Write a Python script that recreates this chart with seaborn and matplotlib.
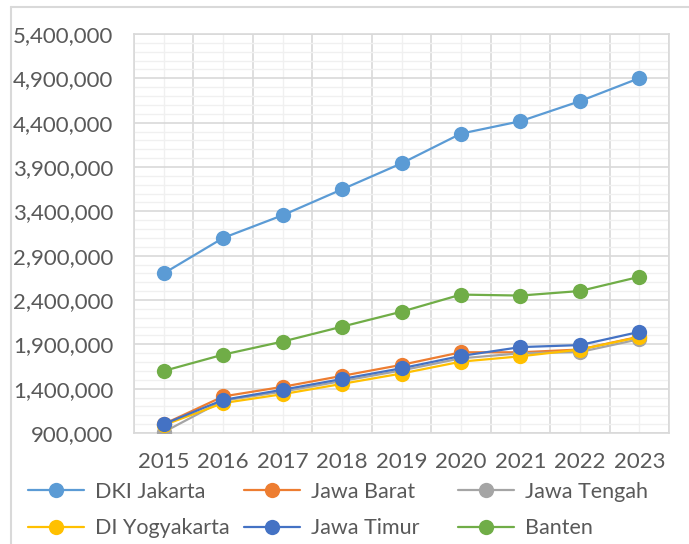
import matplotlib
matplotlib.use("Agg")
import matplotlib.pyplot as plt
import seaborn as sns
import pandas as pd
import numpy as np
from matplotlib.ticker import FuncFormatter, FixedLocator
from matplotlib.lines import Line2D

years = [2015, 2016, 2017, 2018, 2019, 2020, 2021, 2022, 2023]
dki_jakarta = [2700000, 3100000, 3355750, 3648035, 3940973, 4276349, 4416186, 4641854, 4901798]
jawa_barat = [1000000, 1312355, 1420624, 1544360, 1668373, 1810351, 1810351, 1841487, 1986670]
jawa_tengah = [910000, 1265000, 1367000, 1486065, 1605396, 1742015, 1798979, 1812935, 1958169]
di_yogyakarta = [988500, 1237700, 1337645, 1454154, 1570923, 1704608, 1765000, 1840915, 1981782]
jawa_timur = [1000000, 1273490, 1388000, 1508894, 1630059, 1768777, 1868777, 1891567, 2040244]
banten = [1600000, 1784000, 1931180, 2099385, 2267990, 2460996, 2450000, 2501203, 2661280]

series_names = ["DKI Jakarta", "Jawa Barat", "Jawa Tengah", "DI Yogyakarta", "Jawa Timur", "Banten"]
series_values = [dki_jakarta, jawa_barat, jawa_tengah, di_yogyakarta, jawa_timur, banten]
colors = ["#5B9BD5", "#ED7D31", "#A5A5A5", "#FFC000", "#4472C4", "#70AD47"]

y_min, y_max, y_step, y_minor_step = 900000, 5400000, 500000, 100000

rows = []
for name, vals in zip(series_names, series_values):
    for i, (y, v) in enumerate(zip(years, vals)):
        rows.append({"pos": i, "year": y, "value": v, "series": name})
df = pd.DataFrame(rows)

sns.set_theme(style="white")
plt.rcParams['font.family'] = ['Lato', 'DejaVu Sans']
text_color = "#595959"

fig = plt.figure(figsize=(6.89, 5.44), dpi=100)
ax = fig.add_axes([134/689, 1-433/544, (669-134)/689, (433-34)/544])

sns.lineplot(data=df, x="pos", y="value", hue="series", hue_order=series_names,
             palette=colors, marker="o", markersize=11, markeredgewidth=0,
             linewidth=1.6, legend=False, ax=ax, zorder=3)

ax.set_xlim(-0.5, len(years) - 0.5)
ax.set_ylim(y_min, y_max)

# y axis
ax.yaxis.set_major_locator(FixedLocator(np.arange(y_min, y_max + 1, y_step)))
ax.yaxis.set_minor_locator(FixedLocator(np.arange(y_min, y_max + 1, y_minor_step)))
ax.yaxis.set_major_formatter(FuncFormatter(lambda v, p: f"{int(round(v)):,}"))
ax.grid(which="major", axis="y", color="#D9D9D9", linewidth=1.2, zorder=0)
ax.grid(which="minor", axis="y", color="#F0F0F0", linewidth=1.0, zorder=0)

# x axis: labels at centres, major lines at boundaries
ax.set_xticks(np.arange(-0.5, len(years), 1.0))
ax.set_xticklabels([])
ax.set_xticks(np.arange(len(years)), minor=True)
ax.set_xticklabels([str(y) for y in years], minor=True)
ax.grid(which="major", axis="x", color="#D9D9D9", linewidth=1.2, zorder=0)
ax.grid(which="minor", axis="x", color="#F0F0F0", linewidth=1.0, zorder=0)
ax.tick_params(axis="x", which="major", length=8, color="#D9D9D9", width=1.2, direction="out")
ax.tick_params(axis="x", which="minor", length=0, pad=14, labelsize=16, labelcolor=text_color)
ax.tick_params(axis="y", which="both", length=0, pad=15, labelsize=16, labelcolor=text_color)
ax.set_axisbelow(True)
ax.set_xlabel("")
ax.set_ylabel("")
for side in ["top", "right", "left", "bottom"]:
    ax.spines[side].set_visible(True)
    ax.spines[side].set_color("#D9D9D9")
    ax.spines[side].set_linewidth(1.2)

# legend: three equal-width columns, row-wise order
handles = [Line2D([0], [0], color=c, marker="o", markersize=11, markeredgewidth=0, linewidth=1.6)
           for c in colors]
col_x = [28, 244, 458]
for col in range(3):
    idx = [col, col + 3]
    leg = fig.legend([handles[i] for i in idx], [series_names[i] for i in idx],
                     loc="upper left", bbox_to_anchor=(col_x[col]/689, 1-482/544), ncol=1,
                     frameon=False, fontsize=15.5, handlelength=2.6, handletextpad=0.5,
                     labelspacing=0.75, borderaxespad=0, borderpad=0)
    for t in leg.get_texts():
        t.set_color(text_color)

# chart outer border (left and top visible)
fig.add_artist(Line2D([11/689, 11/689], [0, 1-7/544], color="#D9D9D9", linewidth=1.5,
                      transform=fig.transFigure))
fig.add_artist(Line2D([11/689, 1], [1-7/544, 1-7/544], color="#D9D9D9", linewidth=1.5,
                      transform=fig.transFigure))

fig.savefig("out.png", dpi=100)
